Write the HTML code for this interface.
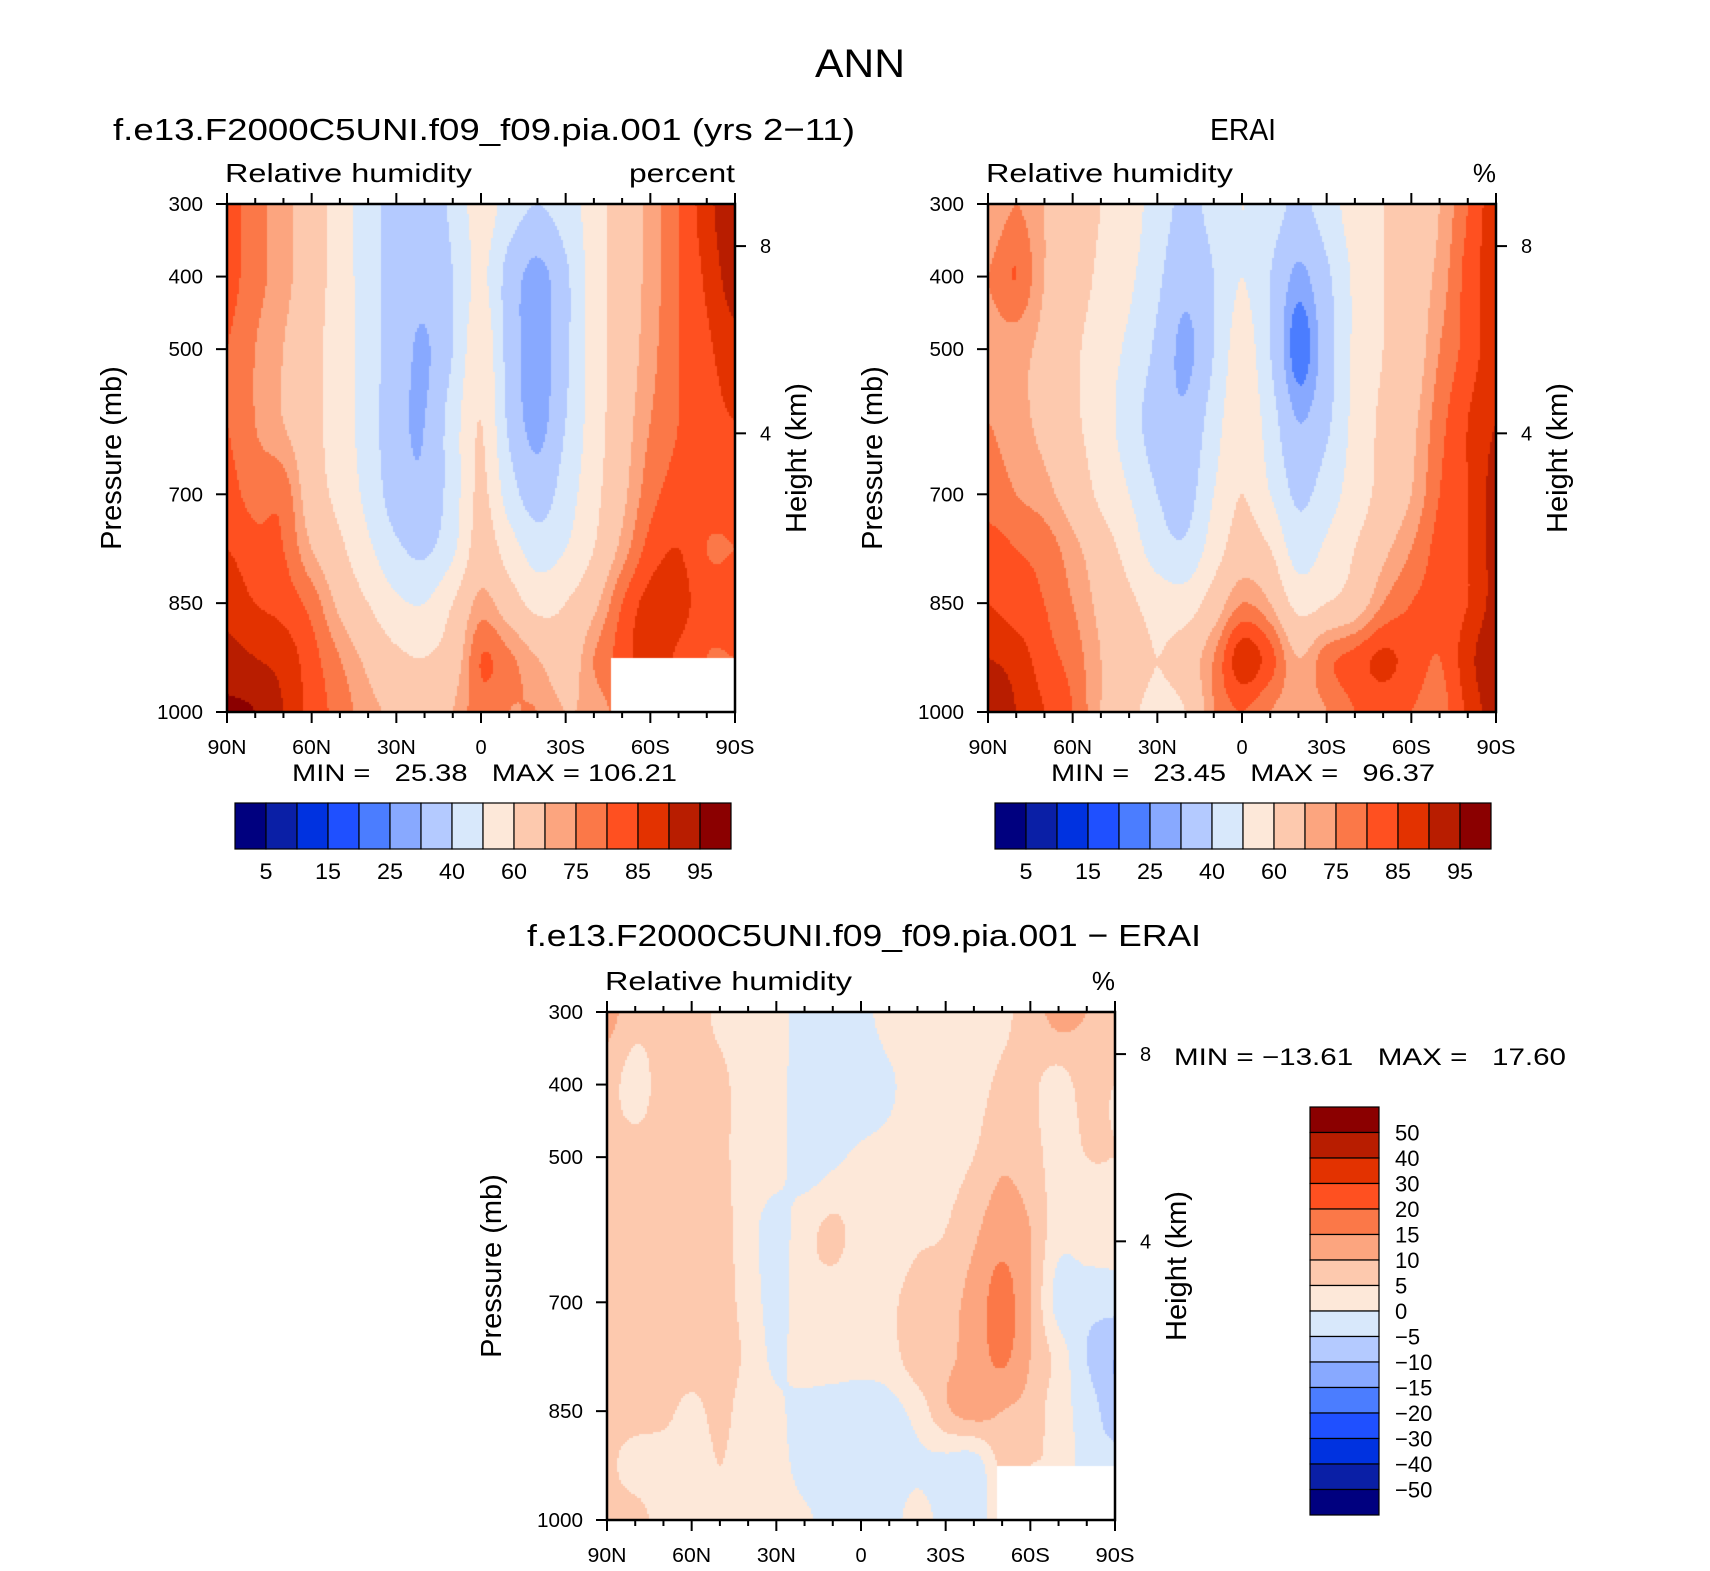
<!DOCTYPE html>
<html><head><meta charset="utf-8"><style>
html,body{margin:0;padding:0;background:#fff}
#root{position:relative;width:1710px;height:1571px;overflow:hidden;font-family:"Liberation Sans",sans-serif}
canvas{position:absolute}
svg{position:absolute;left:0;top:0}
</style></head><body>
<div id="root">
<canvas id="c1" width="508" height="508" style="left:227px;top:204px"></canvas>
<canvas id="c2" width="508" height="508" style="left:988px;top:204px"></canvas>
<canvas id="c3" width="508" height="508" style="left:607px;top:1012px"></canvas>
<svg id="s" width="1710" height="1571"></svg>
</div>
<script>
const lats=[90,80,70,60,50,40,30,20,10,0,-10,-20,-30,-40,-50,-60,-70,-80,-90];
const pres=[300,400,500,600,700,775,850,925,1000];
const modelRH=[
[82,77,72,65,55,45,35,35,42,55,45,40,45,55,65,72,80,88,95],
[82,77,72,65,55,45,35,33,40,52,36,27,38,55,65,72,80,86,93],
[80,75,70,63,55,45,35,29,40,57,36,26,38,55,65,73,80,84,88],
[80,75,70,63,55,45,33,30,45,60,38,27,40,55,66,75,80,83,85],
[82,78,78,65,57,47,35,32,45,62,45,35,45,57,68,78,82,82,82],
[85,82,80,70,62,52,42,38,48,65,55,45,50,60,72,82,85,80,80],
[88,85,83,78,68,60,52,50,60,72,65,57,60,68,80,87,87,82,82],
[92,90,88,82,75,68,62,60,65,80,76,70,65,75,82,88,84,80,80],
[96,95,90,83,78,72,68,62,70,78,75,75,70,72,78,84,82,80,80]];
const eraiRH=[
[70,75,70,65,60,55,45,38,43,50,45,38,45,55,60,62,70,80,88],
[75,80,70,65,58,52,42,33,40,50,40,28,38,52,60,65,72,82,88],
[72,72,68,62,55,48,38,28,40,55,40,22,35,52,60,65,75,82,88],
[75,72,68,62,55,45,35,32,45,58,45,30,38,53,62,68,78,85,90],
[78,75,72,66,58,50,40,36,50,60,50,38,45,55,63,70,80,85,92],
[82,80,78,72,65,56,45,42,55,65,60,45,52,60,68,75,82,85,92],
[85,82,80,75,68,62,56,55,65,75,70,57,60,65,75,80,82,85,92],
[90,88,82,78,70,65,60,65,75,88,82,70,78,82,86,83,80,88,95],
[92,90,85,80,70,62,58,60,75,80,75,72,75,80,82,80,78,86,93]];
const diffRH=[
[12,7,7,7,4,3,2,-2,-1,-2,3,3,2,2,4,7,12,10,10],
[7,3,7,7,6,3,2,-3,-2,-4,-1,3,2,3,6,6,3,7,5],
[7,7,7,7,6,3,2,-3,-1,1,2,3,3,5,9,7,3,5,5],
[7,7,7,7,7,2,-2,3,6,3,2,4,5,9,13,10,2,3,3],
[7,7,7,7,7,3,-2,3,3,2,4,7,8,12,17,10,-2,-3,-3],
[7,7,7,7,7,4,-1,3,3,2,3,8,9,12,16,10,3,-5,-10],
[7,7,6,4,6,3,1,-2,-3,-3,-2,2,9,12,10,8,2,-2,-8],
[6,3,3,3,5,3,2,-2,-3,-3,-3,-1,-2,-3,6,5,4,-3,-3],
[7,7,3,3,5,3,3,1,-2,-3,-2,2,-2,-3,4,4,4,-3,-3]];
const rhLevels=[5,10,15,20,25,30,40,50,60,70,75,80,85,90,95];
const diffLevels=[-50,-40,-30,-20,-15,-10,-5,0,5,10,15,20,30,40,50];
const rhLabels=["5","15","25","40","60","75","85","95"];
const diffLabels=["50","40","30","20","15","10","5","0","\u22125","\u221210","\u221215","\u221220","\u221230","\u221240","\u221250"];
const xTickLabels=["90N","60N","30N","0","30S","60S","90S"];
const pTicks=[300,400,500,700,850,1000];
const hTicks=[[8,358],[4,616]];
const colors=["#00007f","#0a1fa6","#0032e0","#1f50ff","#4b7dff","#88a9ff","#b4caff","#d8e8fb","#fde8d9","#fdc9ae","#fca57f","#fb7848","#ff5020","#e33200","#b81d00","#8b0000"];

const W=508,H=508;
const xOf=lat=>(90-lat)/180*W;
const yOf=p=>(p-300)/700*H;
function cr(p0,p1,p2,p3,t){return 0.5*((2*p1)+(-p0+p2)*t+(2*p0-5*p1+4*p2-p3)*t*t+(-p0+3*p1-3*p2+p3)*t*t*t);}
function g(grid,j,i){j=Math.max(0,Math.min(pres.length-1,j));i=Math.max(0,Math.min(18,i));return grid[j][i];}
function sample(grid,lat,p){
  let fi=(90-lat)/10; let i=Math.min(17,Math.floor(fi)); let tx=fi-i;
  let j=0; while(j<pres.length-2&&p>pres[j+1]) j++;
  let ty=(p-pres[j])/(pres[j+1]-pres[j]);
  const rows=[];
  for(let dj=-1;dj<=2;dj++)rows.push(cr(g(grid,j+dj,i-1),g(grid,j+dj,i),g(grid,j+dj,i+1),g(grid,j+dj,i+2),tx));
  return cr(rows[0],rows[1],rows[2],rows[3],ty);
}
function cidx(v,lev){let k=0;while(k<lev.length&&v>=lev[k])k++;return k;}
function paint(id,grid,lev,mask){
  const ctx=document.getElementById(id).getContext('2d');
  const s=2;
  for(let y=0;y<H;y+=s)for(let x=0;x<W;x+=s){
    const lat=90-(x+s/2)/W*180, p=300+(y+s/2)/H*700;
    if(mask&&lat<mask[0]&&p>mask[1]){ctx.fillStyle="#fff";}
    else ctx.fillStyle=colors[cidx(sample(grid,lat,p),lev)];
    ctx.fillRect(x,y,s,s);
  }
}
paint('c1',modelRH,rhLevels,[-46,925]);
paint('c2',eraiRH,rhLevels,null);
paint('c3',diffRH,diffLevels,[-48,925]);

const svg=document.getElementById('s');const NS="http://www.w3.org/2000/svg";
function el(tag,attrs,txt){const e=document.createElementNS(NS,tag);for(const k in attrs)e.setAttribute(k,attrs[k]);if(txt!==undefined)e.textContent=txt;svg.appendChild(e);return e;}
function text(x,y,s,size,anchor,name,rot,len){const e=el('text',{x:x,y:y,'font-size':size,'text-anchor':anchor||'start','font-family':'Liberation Sans, sans-serif',fill:'#000'},s);


if(len){e.setAttribute('textLength',len);e.setAttribute('lengthAdjust','spacingAndGlyphs');}
if(rot)e.setAttribute('transform','rotate(-90 '+x+' '+y+')');e.style.whiteSpace='pre';return e;}
function axes(X,Y,pre,unit,ulen){
  const f=el('rect',{x:X,y:Y,width:W,height:H,fill:'none',stroke:'#000','stroke-width':2.5});
  
  
  for(let lat=90;lat>=-90;lat-=10){
    const x=X+xOf(lat),maj=lat%30===0,L=maj?11:6;
    el('line',{x1:x,y1:Y+H,x2:x,y2:Y+H+L,stroke:'#000','stroke-width':2});
    el('line',{x1:x,y1:Y,x2:x,y2:Y-L,stroke:'#000','stroke-width':2});
  }
  xTickLabels.forEach((t,k)=>text(X+k*W/6,Y+H+42,t,20,'middle',pre+'-x-tick-label',false,t.length>1?t.length*13:null));
  pTicks.forEach(p=>{const y=Y+yOf(p);el('line',{x1:X,y1:y,x2:X-11,y2:y,stroke:'#000','stroke-width':2});
    text(X-24,y+7,String(p),20,'end',pre+'-y-tick-label',false,String(p).length*11.5);});
  hTicks.forEach(h=>{const y=Y+yOf(h[1]);el('line',{x1:X+W,y1:y,x2:X+W+11,y2:y,stroke:'#000','stroke-width':2});
    text(X+W+25,y+7,String(h[0]),20,'start',pre+'-height-tick-label');});
  text(X-106,Y+254,"Pressure (mb)",29,'middle',pre+'-y-axis-title',true,null);
  text(X+W+71,Y+254,"Height (km)",29,'middle',pre+'-right-axis-title',true,null);
  text(X-2,Y-22,"Relative humidity",26,'start',pre+'-variable-label',false,247);
  text(X+W,Y-22,unit,26,'end',pre+'-units-label',false,ulen);
}
function hbar(X,Y,pre){
  const bw=31;
  colors.forEach((c,k)=>{const r=el('rect',{x:X+k*bw,y:Y,width:bw,height:46,fill:c,stroke:'#000','stroke-width':1.2});
    
    });
  rhLabels.forEach((t,k)=>text(X+(2*k+1)*bw,Y+76,t,22,'middle',pre+'-colorbar-label',false,t.length*13));
}
text(860,77,"ANN",40,'middle','figure-title',false,90);
text(484,140,"f.e13.F2000C5UNI.f09_f09.pia.001 (yrs 2\u221211)",31,'middle','model-panel-title',false,742);
text(1243,140,"ERAI",31,'middle','erai-panel-title',false,66);
text(864,946,"f.e13.F2000C5UNI.f09_f09.pia.001 \u2212 ERAI",31,'middle','difference-panel-title',false,674);
axes(227,204,'model',"percent",106);
axes(988,204,'erai',"%",null);
axes(607,1012,'diff',"%",null);
text(292,781,"MIN =   25.38   MAX = 106.21",24,'start','model-min-max',false,385);
text(1051,781,"MIN =   23.45   MAX =   96.37",24,'start','erai-min-max',false,384);
text(1174,1065,"MIN = \u221213.61   MAX =   17.60",24,'start','diff-min-max',false,392);
hbar(235,803,'model');
hbar(995,803,'erai');
const vbh=25.5;
colors.slice().reverse().forEach((c,k)=>{const r=el('rect',{x:1310,y:1107+k*vbh,width:69,height:vbh,fill:c,stroke:'#000','stroke-width':1.2});
  
  });
diffLabels.forEach((t,k)=>text(1395,1107+(k+1)*vbh+8,t,22,'start','diff-colorbar-label'));
</script>
</body></html>
